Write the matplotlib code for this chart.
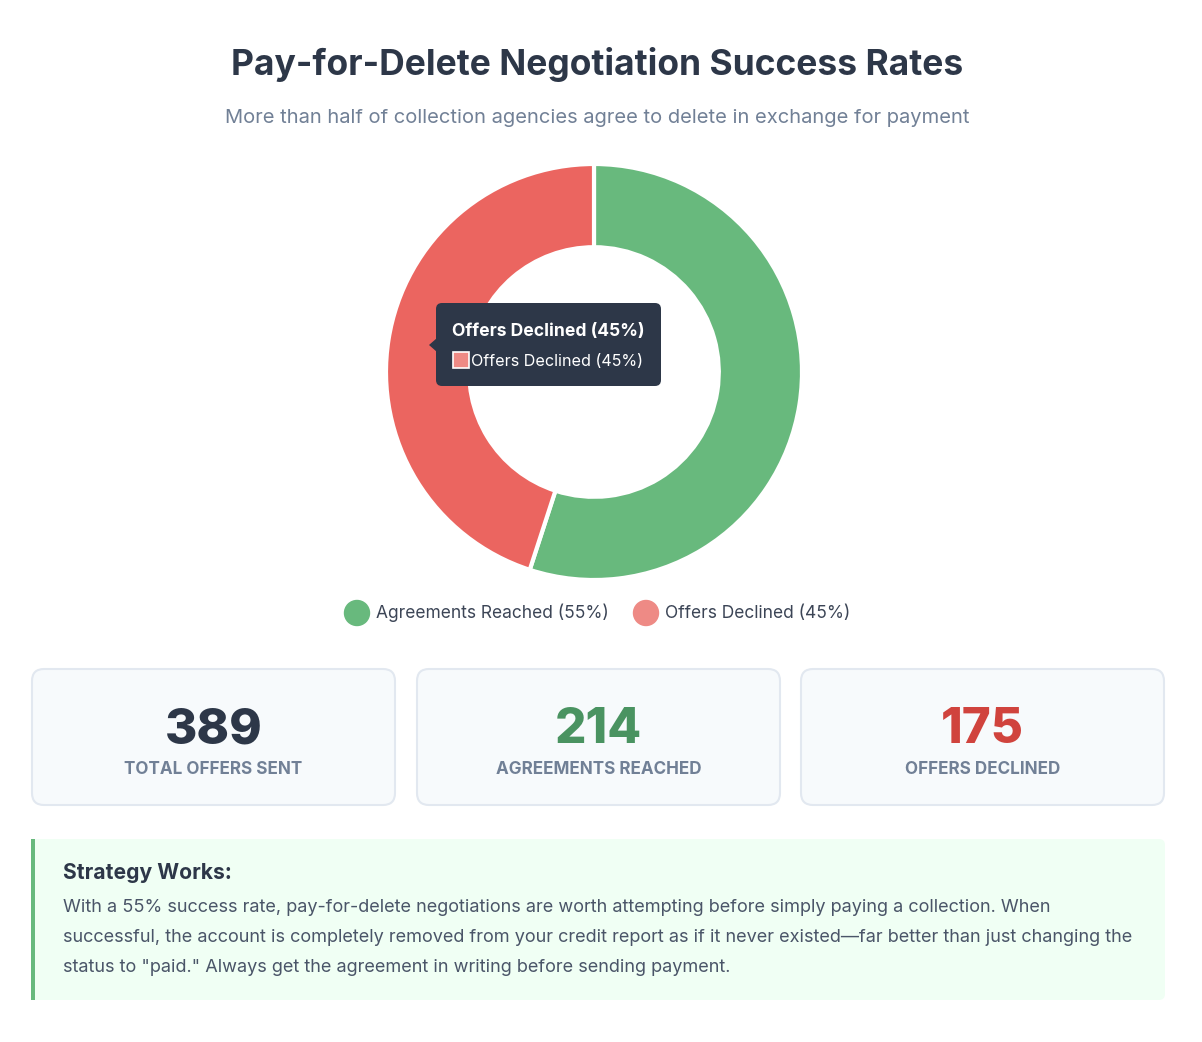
import matplotlib.pyplot as plt
from matplotlib.patches import FancyBboxPatch, Rectangle, Polygon, Circle

plt.rcParams['font.family'] = ['Inter', 'DejaVu Sans']

# data
labels = ['Agreements Reached', 'Offers Declined']
shares = [55, 45]
colors = ['#68B97D', '#EB6560']
legend_colors = ['#68B97D', '#EE8A85']
card_values = ['389', '214', '175']
card_labels = ['TOTAL OFFERS SENT', 'AGREEMENTS REACHED', 'OFFERS DECLINED']
card_colors = ['#2D3748', '#4A9361', '#D0433D']

W, H = 1202, 1042
fig = plt.figure(figsize=(W / 100, H / 100), dpi=100)
fig.patch.set_facecolor('white')

# base axes in pixel coords
ax = fig.add_axes([0, 0, 1, 1])
ax.set_xlim(0, W)
ax.set_ylim(H, 0)
ax.axis('off')

ax.text(597, 64, 'Pay-for-Delete Negotiation Success Rates', ha='center', va='center',
        fontsize=25.5, fontweight='bold', color='#2D3748')
ax.text(597, 118, 'More than half of collection agencies agree to delete in exchange for payment',
        ha='center', va='center', fontsize=14.5, color='#718096')

# donut
cx, cy, r = 594, 372, 208
dax = fig.add_axes([(cx - r) / W, 1 - (cy + r) / H, 2 * r / W, 2 * r / H])
dax.pie(shares, colors=colors, startangle=90, counterclock=False,
        wedgeprops=dict(width=0.4, edgecolor='white', linewidth=3))
dax.set_aspect('equal')
dax.set_xlim(-1, 1)
dax.set_ylim(-1, 1)

# legend
leg_items = [(357, 376, f'{labels[0]} ({shares[0]}%)'), (646, 665, f'{labels[1]} ({shares[1]}%)')]
for (mx, tx, txt), c in zip(leg_items, legend_colors):
    ax.add_patch(Circle((mx, 613), 12.5, color=c))
    ax.text(tx, 613, txt, ha='left', va='center', fontsize=12.5, color='#3C4556')

# stat cards
card_x = [32, 417, 801]
for x0, v, lab, c in zip(card_x, card_values, card_labels, card_colors):
    ax.add_patch(FancyBboxPatch((x0, 669), 363, 136, boxstyle='round,pad=0,rounding_size=12',
                                facecolor='#F7FAFC', edgecolor='#E2E8F0', linewidth=1.5))
    ax.text(x0 + 181.5, 730, v, ha='center', va='center', fontsize=35.5, fontweight='heavy', color=c)
    ax.text(x0 + 181.5, 770, lab, ha='center', va='center', fontsize=12.3, fontweight='bold',
            color='#718096')

# insight box
ax.add_patch(FancyBboxPatch((31, 839), 1134, 161, boxstyle='round,pad=0,rounding_size=6',
                            facecolor='#F0FFF4', edgecolor='none'))
ax.add_patch(Rectangle((31, 839), 4, 161, facecolor='#68B97D', edgecolor='none'))
ax.text(63, 873, 'Strategy Works:', ha='left', va='center', fontsize=15.2, fontweight='bold',
        color='#2D3748')
body = ['With a 55% success rate, pay-for-delete negotiations are worth attempting before simply paying a collection. When',
        'successful, the account is completely removed from your credit report as if it never existed\u2014far better than just changing the',
        'status to "paid." Always get the agreement in writing before sending payment.']
for i, line in enumerate(body):
    ax.text(63, 907 + i * 30, line, ha='left', va='center', fontsize=13.05, color='#4A5568')

# tooltip
tax = fig.add_axes([0, 0, 1, 1])
tax.set_xlim(0, W)
tax.set_ylim(H, 0)
tax.axis('off')
tax.patch.set_alpha(0)
tax.add_patch(FancyBboxPatch((436, 303), 225, 83, boxstyle='round,pad=0,rounding_size=6',
                             facecolor='#2D3748', edgecolor='none'))
tax.add_patch(Polygon([[437, 338], [429, 345], [437, 352]], closed=True, facecolor='#2D3748',
                      edgecolor='none'))
tax.text(452, 331, f'{labels[1]} ({shares[1]}%)', ha='left', va='center', fontsize=12.6,
         fontweight='bold', color='white')
tax.add_patch(Rectangle((453, 352), 16, 16, facecolor=legend_colors[1], edgecolor='white', linewidth=1.2))
tax.text(471, 361, f'{labels[1]} ({shares[1]}%)', ha='left', va='center', fontsize=11.6, color='white')

fig.savefig('out.png', dpi=100, facecolor='white')
